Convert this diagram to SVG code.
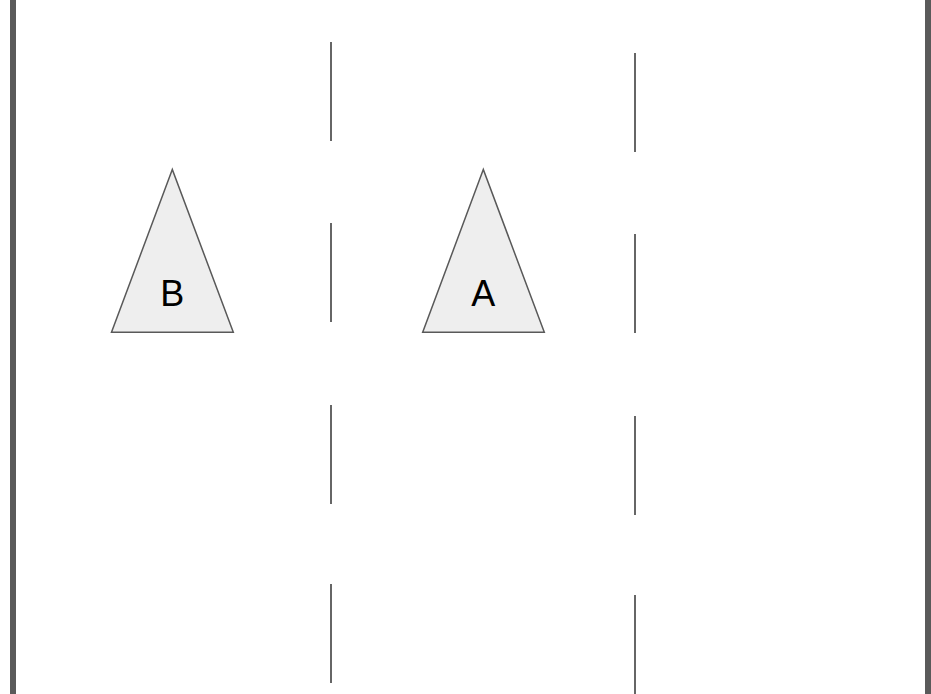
<svg xmlns="http://www.w3.org/2000/svg" width="931" height="694" viewBox="0 0 931 694">
<style>
.wall{stroke:#5a5a5a;stroke-width:6;fill:none}
.lane{stroke:#666666;stroke-width:2;fill:none}
.tri{fill:#eeeeee;stroke:#595959;stroke-width:1.5;stroke-linejoin:miter}
.lbl{font-family:"Liberation Sans",Arial,sans-serif;font-size:36px;fill:#000;text-anchor:middle}
</style>
<rect width="931" height="694" fill="#ffffff"/>
<g id="walls">
<line class="wall" x1="13" y1="0" x2="13" y2="694"/>
<line class="wall" x1="928" y1="0" x2="928" y2="694"/>
</g>
<g id="lanes">
<line class="lane" x1="331" y1="42" x2="331" y2="141"/>
<line class="lane" x1="331" y1="223" x2="331" y2="322"/>
<line class="lane" x1="331" y1="405" x2="331" y2="504"/>
<line class="lane" x1="331" y1="584" x2="331" y2="683"/>
<line class="lane" x1="635" y1="53" x2="635" y2="152"/>
<line class="lane" x1="635" y1="234" x2="635" y2="333"/>
<line class="lane" x1="635" y1="416" x2="635" y2="515"/>
<line class="lane" x1="635" y1="595" x2="635" y2="694"/>
</g>
<g id="B">
<polygon class="tri" points="172.3,169.5 111.5,332.3 233.3,332.3"/>
<text class="lbl" x="172.3" y="306">B</text>
</g>
<g id="A">
<polygon class="tri" points="483.3,169.5 422.7,332.3 544.3,332.3"/>
<text class="lbl" x="483.3" y="306">A</text>
</g>
</svg>
